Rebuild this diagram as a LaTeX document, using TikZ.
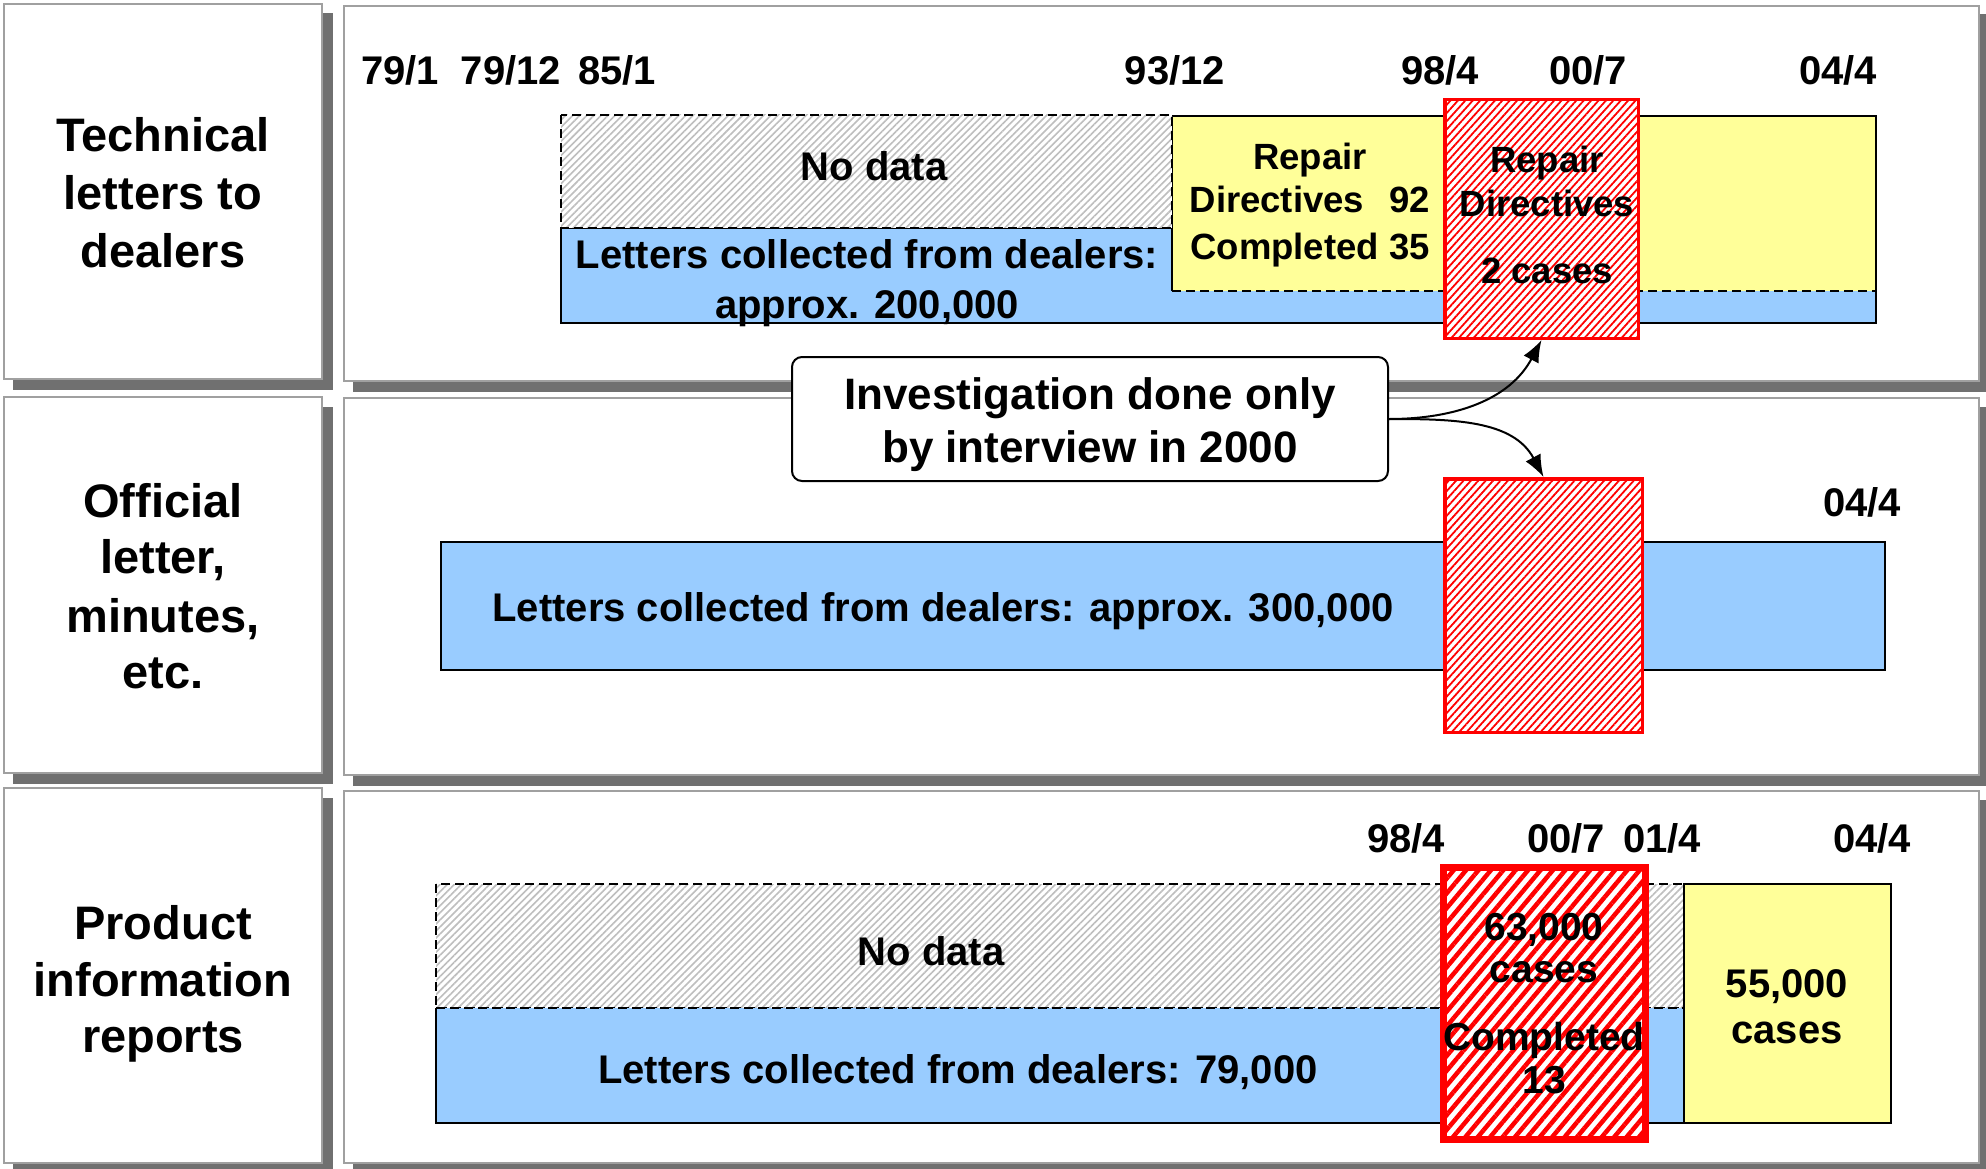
\documentclass[tikz,border=0pt]{standalone}
\usepackage{fontspec}
\setmainfont{Liberation Sans}
\usetikzlibrary{patterns.meta,arrows.meta}
\definecolor{barblue}{HTML}{99CCFF}
\definecolor{baryellow}{HTML}{FFFF99}
\definecolor{shadowgray}{HTML}{707070}
\definecolor{framegray}{HTML}{A0A0A0}
\definecolor{hatchgray}{HTML}{BEBEBE}
\definecolor{hatchred}{HTML}{FF0000}
\tikzset{
  shadowbox/.style={fill=shadowgray, draw=shadowgray, line width=1pt},
  panelbox/.style={fill=white, draw=framegray, line width=1.5pt},
  bluebar/.style={fill=barblue, draw=black, line width=2pt},
  yellowbar/.style={fill=baryellow, draw=black, line width=2pt},
  dashline/.style={draw=black, line width=1.8pt, dash pattern=on 9pt off 5pt},
  nodatafill/.style={preaction={fill=white}, pattern={Lines[angle=45,distance=5pt,line width=1.6pt]}, pattern color=hatchgray},
  redthin/.style={rectangle, inner sep=0pt, preaction={fill=white}, pattern={Lines[angle=48,distance=5.5pt,line width=1.8pt]}, pattern color=hatchred, draw=red, line width=3.5pt},
  redthick/.style={rectangle, inner sep=0pt, preaction={fill=white}, pattern={Lines[angle=50,distance=9.5pt,line width=4.5pt]}, pattern color=hatchred, draw=red, line width=7pt},
  callbox/.style={rectangle, draw=black, fill=white, line width=2pt, rounded corners=10pt, inner sep=0pt},
  lbl/.style={font=\fontsize{47}{57}\selectfont\bfseries, anchor=base, inner sep=0pt},
  txt/.style={font=\fontsize{40}{48}\selectfont\bfseries, anchor=base, inner sep=0pt},
  smalltxt/.style={font=\fontsize{36.5}{44}\selectfont\bfseries, anchor=base, inner sep=0pt},
  redtxt/.style={font=\fontsize{39}{44}\selectfont\bfseries, anchor=base, inner sep=0pt},
  calltxt/.style={font=\fontsize{44}{52}\selectfont\bfseries, anchor=base, inner sep=0pt},
  conn/.style={draw=black, line width=2pt, -{Latex[length=22pt,width=17pt]}},
}
\begin{document}
\begin{tikzpicture}[x=1pt,y=-1pt]
\useasboundingbox (0,0) rectangle (1986,1169);
\fill[white] (0,0) rectangle (1986,1169);

% ---------- left label boxes ----------
\path[shadowbox] (13,14) rectangle (332,389);
\draw[panelbox] (4,4) rectangle (322,379);
\path[shadowbox] (13,407) rectangle (332,783);
\draw[panelbox] (4,397) rectangle (322,773);
\path[shadowbox] (13,798) rectangle (332,1173);
\draw[panelbox] (4,788) rectangle (322,1163);

% ---------- right panels ----------
\path[shadowbox] (353,15) rectangle (1988,391);
\draw[panelbox] (344,6) rectangle (1979,381);
\path[shadowbox] (353,407) rectangle (1988,785);
\draw[panelbox] (344,398) rectangle (1979,775);
\path[shadowbox] (353,800) rectangle (1988,1173);
\draw[panelbox] (344,791) rectangle (1979,1163);

% ---------- left labels ----------
\node[lbl] (l1a) at (163,152) {Technical};
\node[lbl] (l1b) at (163,210) {letters to};
\node[lbl] (l1c) at (163,267) {dealers};
\node[lbl] (l2a) at (163,517) {Official};
\node[lbl] (l2b) at (163,573) {letter,};
\node[lbl] (l2c) at (163,632) {minutes,};
\node[lbl] (l2d) at (163,688) {etc.};
\node[lbl] (l3a) at (163,939) {Product};
\node[lbl] (l3b) at (163,996) {information};
\node[lbl] (l3c) at (163,1052) {reports};

% ---------- panel 1 ----------
\node[txt] (d1) at (400,85) {79/1};
\node[txt] (d2) at (511,85) {79/12};
\node[txt] (d3) at (617,85) {85/1};
\node[txt] (d4) at (1175,85) {93/12};
\node[txt] (d5) at (1440,85) {98/4};
\node[txt] (d6) at (1588,85) {00/7};
\node[txt] (d7) at (1838,85) {04/4};

\draw[bluebar] (561,228) rectangle (1876,323);
\fill[baryellow] (1172,116) rectangle (1876,291);
\draw[line width=2pt] (1172,291) -- (1172,116) -- (1876,116) -- (1876,291);
\draw[dashline] (1172,291) -- (1876,291);
\path[nodatafill] (561,115) rectangle (1172,228);
\draw[dashline] (561,115) rectangle (1172,228);

\node[txt] (nd1) at (874,181) {No data};
\node[txt] (b1a) at (867,268) {Letters collected from dealers:};
\node[txt] (b1b) at (867,318) {approx. 200,000};
\node[smalltxt] (y1a) at (1310,170) {Repair};
\node[smalltxt] (y1b) at (1310,213) {Directives\hspace{0.7em}92};
\node[smalltxt] (y1c) at (1310,259) {Completed 35};

\node[redthin, minimum width=193.5pt, minimum height=238.5pt] (red1) at (1541.5,219) {};
\node[smalltxt] (r1a) at (1547,173) {Repair};
\node[smalltxt] (r1b) at (1547,217) {Directives};
\node[smalltxt] (r1c) at (1547,283) {2 cases};

% ---------- panel 2 ----------
\node[txt] (d8) at (1862,516) {04/4};
\draw[bluebar] (441,542) rectangle (1885,670);
\node[txt] (b2) at (943,621) {Letters collected from dealers: approx. 300,000};
\node[redthin, minimum width=197.5pt, minimum height=253.5pt] (red2) at (1543.5,605.5) {};

% ---------- panel 3 ----------
\node[txt] (d9) at (1406,852) {98/4};
\node[txt] (d10) at (1566,852) {00/7};
\node[txt] (d11) at (1662,852) {01/4};
\node[txt] (d12) at (1872,852) {04/4};

\path[nodatafill] (436,884) rectangle (1684,1008);
\draw[dashline] (436,884) rectangle (1684,1008);
\fill[barblue] (436,1008) rectangle (1684,1123);
\draw[line width=2pt] (436,1008) -- (436,1123) -- (1684,1123) -- (1684,1008);
\draw[dashline] (436,1008) -- (1684,1008);
\draw[yellowbar] (1684,884) rectangle (1891,1123);

\node[txt] (nd3) at (931,965) {No data};
\node[txt] (b3) at (958,1083) {Letters collected from dealers: 79,000};
\node[txt] (y3a) at (1787,997) {55,000};
\node[txt] (y3b) at (1787,1043) {cases};

\node[redthick, minimum width=202pt, minimum height=272pt] (red3) at (1544.5,1003.5) {};
\node[redtxt] (r3a) at (1544,940) {63,000};
\node[redtxt] (r3b) at (1544,982) {cases};
\node[redtxt] (r3c) at (1544,1050) {Completed};
\node[redtxt] (r3d) at (1544,1093) {13};

% ---------- callout ----------
\node[callbox, minimum width=596pt, minimum height=124pt] (call) at (1090,419) {};
\node[calltxt] (c1) at (1090,409) {Investigation done only};
\node[calltxt] (c2) at (1090,462) {by interview in 2000};
\draw[conn] (call.east) to[out=0, in=-118] (red1.south);
\draw[conn] (call.east) to[out=0, in=118] (red2.north);
\end{tikzpicture}
\end{document}
